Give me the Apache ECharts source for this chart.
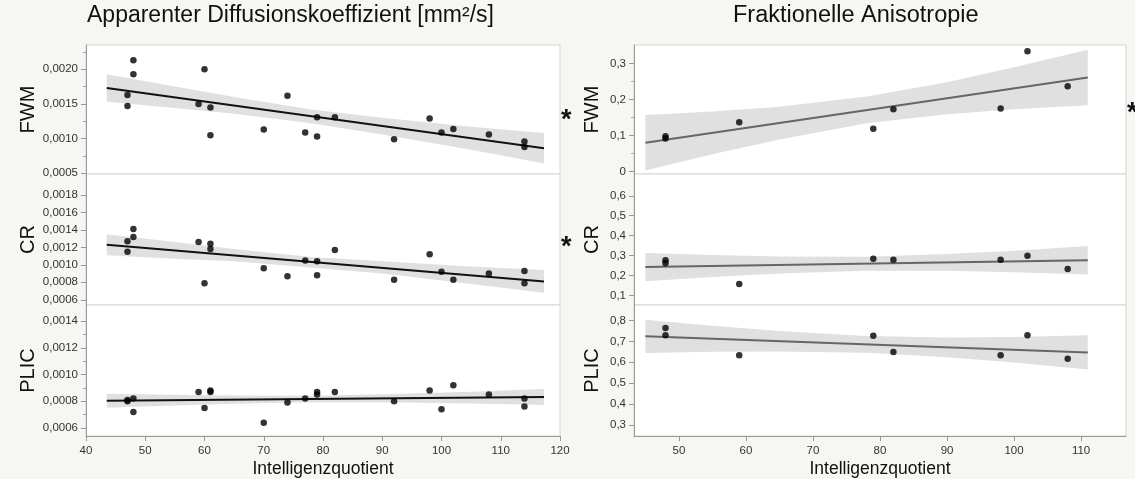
<!DOCTYPE html>
<html>
<head>
<meta charset="utf-8">
<script src="https://cdn.jsdelivr.net/npm/echarts@6/dist/echarts.min.js"></script>
<style>
  html, body { margin: 0; padding: 0; background: #f6f6f2; }
  #chart { width: 1135px; height: 479px; }
</style>
</head>
<body>
<div id="chart"></div>
<script>
// ---- data ----
var iqADC = [47, 47, 48, 48, 59, 60, 61, 61, 70, 74, 77, 79, 79, 82, 92, 98, 100, 102, 108, 114, 114];
var adcFWM = [0.00163, 0.00147, 0.00213, 0.00193, 0.00150, 0.00200, 0.00145, 0.00105, 0.00113, 0.00162, 0.00109,
              0.00131, 0.00103, 0.00131, 0.00099, 0.00129, 0.00109, 0.00114, 0.00106, 0.00096, 0.00088];
var adcCR = [0.00127, 0.00115, 0.00141, 0.00132, 0.00126, 0.00079, 0.00124, 0.00118, 0.00096, 0.00087, 0.00105,
             0.00104, 0.00088, 0.00117, 0.00083, 0.00112, 0.00092, 0.00083, 0.00090, 0.00093, 0.00079];
var adcPLIC = [0.00081, 0.00080, 0.00082, 0.00072, 0.00087, 0.00075, 0.00088, 0.00087, 0.00064, 0.00079, 0.00082,
               0.00087, 0.00085, 0.00087, 0.00080, 0.00088, 0.00074, 0.00092, 0.00085, 0.00082, 0.00076];

var iqFA = [48, 48, 59, 79, 82, 98, 102, 108];
var faFWM = [0.098, 0.092, 0.137, 0.119, 0.173, 0.175, 0.334, 0.237];
var faCR = [0.277, 0.262, 0.158, 0.285, 0.280, 0.280, 0.300, 0.233];
var faPLIC = [0.764, 0.729, 0.633, 0.727, 0.649, 0.633, 0.729, 0.617];

// fit lines (end points)
var adcFitX = [43.5, 117.3];
var adcFWMFit = [0.00173, 0.00086];
var adcCRFit = [0.00123, 0.00081];
var adcPLICFit = [0.000804, 0.000832];
var faFitX = [45, 111];
var faFWMFit = [0.080, 0.261];
var faCRFit = [0.243, 0.277];
var faPLICFit = [0.724, 0.647];

// confidence bands
var adcBandX = [43.5, 55, 65, 78, 90, 105, 117.3];
var adcFWMUp = [0.00193, 0.00175, 0.00160, 0.00142, 0.00130, 0.00117, 0.00108];
var adcFWMLo = [0.00153, 0.00144, 0.00136, 0.00122, 0.00106, 0.00084, 0.00064];
var adcCRUp = [0.00135, 0.00126, 0.00118, 0.00109, 0.00104, 0.00098, 0.00094];
var adcCRLo = [0.00111, 0.00107, 0.00104, 0.00097, 0.00090, 0.00078, 0.00068];
var adcPLICUp = [0.000857, 0.000848, 0.000843, 0.000842, 0.000852, 0.000871, 0.000892];
var adcPLICLo = [0.000751, 0.000768, 0.000781, 0.000792, 0.000792, 0.000783, 0.000772];
var faBandX = [45, 55, 65, 78, 90, 100, 111];
var faFWMUp = [0.157, 0.167, 0.180, 0.208, 0.248, 0.289, 0.338];
var faFWMLo = [0.003, 0.048, 0.089, 0.134, 0.159, 0.173, 0.184];
var faCRUp = [0.314, 0.304, 0.296, 0.295, 0.308, 0.325, 0.348];
var faCRLo = [0.172, 0.193, 0.211, 0.225, 0.225, 0.217, 0.206];
var faPLICUp = [0.804, 0.775, 0.749, 0.726, 0.719, 0.721, 0.729];
var faPLICLo = [0.644, 0.650, 0.652, 0.646, 0.624, 0.599, 0.565];

// tick labels
var adcXTicks = [40, 50, 60, 70, 80, 90, 100, 110, 120];
var faXTicks = [50, 60, 70, 80, 90, 100, 110];
var adcFWMTicks = [0.0005, 0.0010, 0.0015, 0.0020];
var adcFWMMinor = [0.00075, 0.00125, 0.00175, 0.00225];
var adcCRTicks = [0.0006, 0.0008, 0.0010, 0.0012, 0.0014, 0.0016, 0.0018];
var adcPLICTicks = [0.0006, 0.0008, 0.0010, 0.0012, 0.0014];
var adcPLICMinor = [0.0007, 0.0009, 0.0011, 0.0013];
var faFWMTicks = [0, 0.1, 0.2, 0.3];
var faFWMMinor = [0.05, 0.15, 0.25];
var faCRTicks = [0.1, 0.2, 0.3, 0.4, 0.5, 0.6];
var faPLICTicks = [0.3, 0.4, 0.5, 0.6, 0.7, 0.8];

var regions = ['FWM', 'CR', 'PLIC'];

var FONT = '"Liberation Sans", Arial, sans-serif';
var tops = [45, 174, 305];
var heights = [129, 131, 131];

function fmtADC(v) { return v.toFixed(4).replace('.', ','); }
function fmtFA(v) { return v === 0 ? '0' : v.toFixed(1).replace('.', ','); }

var panels = [
    { x: iqADC, y: adcFWM, fitX: adcFitX, fit: adcFWMFit, bx: adcBandX, up: adcFWMUp, lo: adcFWMLo,
      min: 0.00049, max: 0.00235, ticks: adcFWMTicks, minor: adcFWMMinor, fmt: fmtADC, line: '#111' },
    { x: iqADC, y: adcCR, fitX: adcFitX, fit: adcCRFit, bx: adcBandX, up: adcCRUp, lo: adcCRLo,
      min: 0.00054, max: 0.00204, ticks: adcCRTicks, minor: [], fmt: fmtADC, line: '#111' },
    { x: iqADC, y: adcPLIC, fitX: adcFitX, fit: adcPLICFit, bx: adcBandX, up: adcPLICUp, lo: adcPLICLo,
      min: 0.00054, max: 0.00152, ticks: adcPLICTicks, minor: adcPLICMinor, fmt: fmtADC, line: '#111' },
    { x: iqFA, y: faFWM, fitX: faFitX, fit: faFWMFit, bx: faBandX, up: faFWMUp, lo: faFWMLo,
      min: -0.0065, max: 0.351, ticks: faFWMTicks, minor: faFWMMinor, fmt: fmtFA, line: '#666' },
    { x: iqFA, y: faCR, fitX: faFitX, fit: faCRFit, bx: faBandX, up: faCRUp, lo: faCRLo,
      min: 0.053, max: 0.709, ticks: faCRTicks, minor: [], fmt: fmtFA, line: '#666' },
    { x: iqFA, y: faPLIC, fitX: faFitX, fit: faPLICFit, bx: faBandX, up: faPLICUp, lo: faPLICLo,
      min: 0.247, max: 0.874, ticks: faPLICTicks, minor: [], fmt: fmtFA, line: '#666' }
];

var grid = [], xAxis = [], yAxis = [], series = [];

panels.forEach(function (p, i) {
    var row = i % 3;
    var isLeft = i < 3;
    var bottom = row === 2;
    grid.push({
        left: isLeft ? 86 : 634,
        width: isLeft ? 474 : 492,
        top: tops[row],
        height: heights[row],
        show: true,
        backgroundColor: '#fff',
        borderColor: '#d4d4d4',
        borderWidth: 1
    });
    xAxis.push({
        type: 'value',
        gridIndex: i,
        min: isLeft ? 40 : 43.3,
        max: isLeft ? 120 : 116.7,
        splitLine: { show: false },
        axisLine: { show: bottom, lineStyle: { color: '#999' } },
        axisTick: { show: bottom, length: 5, lineStyle: { color: '#999' },
                    customValues: isLeft ? adcXTicks : faXTicks },
        axisLabel: { show: bottom, color: '#333', fontSize: 11.5, fontFamily: FONT, margin: 9,
                     customValues: isLeft ? adcXTicks : faXTicks },
        name: bottom ? 'Intelligenzquotient' : '',
        nameLocation: 'middle',
        nameGap: 24,
        nameTextStyle: { fontSize: 17.5, color: '#111', fontFamily: FONT }
    });
    yAxis.push({
        type: 'value',
        gridIndex: i,
        min: p.min,
        max: p.max,
        splitLine: { show: false },
        axisLine: { show: true, lineStyle: { color: '#999' } },
        axisTick: { show: true, length: 5, lineStyle: { color: '#999' }, customValues: p.ticks },
        axisLabel: { color: '#333', fontSize: 11.5, fontFamily: FONT, margin: 8,
                     customValues: p.ticks, formatter: p.fmt },
        name: regions[row],
        nameLocation: 'middle',
        nameGap: isLeft ? 46 : 32,
        nameTextStyle: { fontSize: 20, color: '#111', fontFamily: FONT }
    });
    // minor ticks
    yAxis.push({
        type: 'value',
        gridIndex: i,
        min: p.min,
        max: p.max,
        position: 'left',
        splitLine: { show: false },
        axisLine: { show: false },
        axisTick: { show: p.minor.length > 0, length: 3, lineStyle: { color: '#aaa' }, customValues: p.minor },
        axisLabel: { show: false }
    });

    var bandData = p.bx.map(function (x, k) { return [x, p.lo[k], p.up[k]]; });
    series.push({
        type: 'custom',
        xAxisIndex: i,
        yAxisIndex: 2 * i,
        data: bandData,
        encode: { x: 0, y: [1, 2] },
        silent: true,
        z: 1,
        renderItem: function (params, api) {
            if (params.dataIndex !== 0) return null;
            var pts = [];
            for (var k = 0; k < p.bx.length; k++) pts.push(api.coord([p.bx[k], p.up[k]]));
            for (var k2 = p.bx.length - 1; k2 >= 0; k2--) pts.push(api.coord([p.bx[k2], p.lo[k2]]));
            return { type: 'polygon', shape: { points: pts }, style: { fill: '#e0e0e0' } };
        }
    });
    series.push({
        type: 'line',
        xAxisIndex: i,
        yAxisIndex: 2 * i,
        data: p.fitX.map(function (x, k) { return [x, p.fit[k]]; }),
        showSymbol: false,
        lineStyle: { color: p.line, width: 2 },
        z: 2,
        silent: true
    });
    series.push({
        type: 'scatter',
        xAxisIndex: i,
        yAxisIndex: 2 * i,
        data: p.x.map(function (x, k) { return [x, p.y[k]]; }),
        symbolSize: 6.5,
        itemStyle: { color: '#000' },
        z: 3
    });
});

var chart = echarts.init(document.getElementById('chart'));
chart.setOption({
    backgroundColor: '#f6f6f2',
    animation: false,
    textStyle: { fontFamily: FONT },
    title: [
        { text: 'Apparenter Diffusionskoeffizient [mm²/s]', left: 82, top: -1,
          textStyle: { fontSize: 23, fontWeight: 'normal', color: '#111', fontFamily: FONT } },
        { text: 'Fraktionelle Anisotropie', left: 728, top: -1,
          textStyle: { fontSize: 23.5, fontWeight: 'normal', color: '#111', fontFamily: FONT } }
    ],
    graphic: [
        { type: 'text', left: 561, top: 107, style: { text: '*', fontSize: 27, fontWeight: 'bold', fill: '#111', fontFamily: FONT } },
        { type: 'text', left: 561, top: 234, style: { text: '*', fontSize: 27, fontWeight: 'bold', fill: '#111', fontFamily: FONT } },
        { type: 'text', left: 1127, top: 100, style: { text: '*', fontSize: 27, fontWeight: 'bold', fill: '#111', fontFamily: FONT } }
    ],
    grid: grid,
    xAxis: xAxis,
    yAxis: yAxis,
    series: series
});
</script>
</body>
</html>
